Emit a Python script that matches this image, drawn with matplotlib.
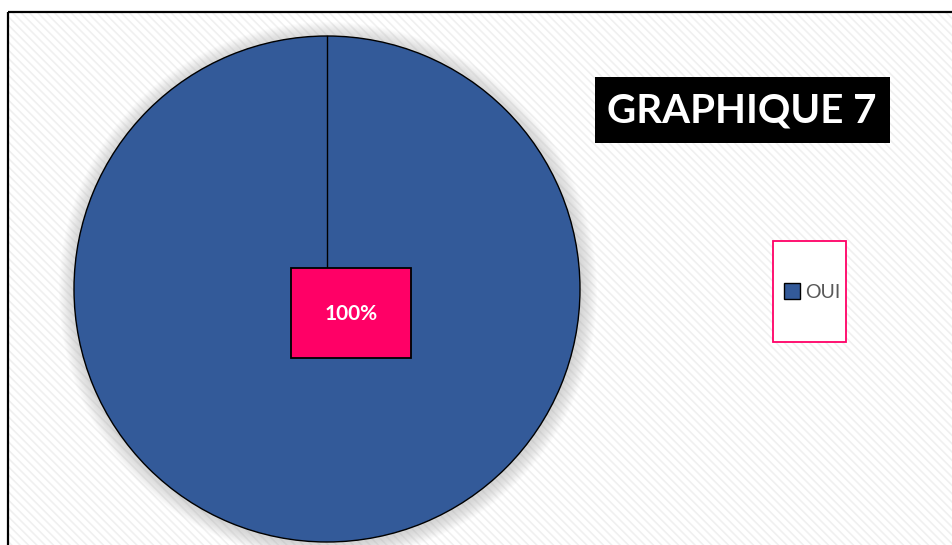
import numpy as np
import matplotlib.pyplot as plt
from matplotlib.patches import Rectangle, Circle

plt.rcParams['font.family'] = ['Lato', 'DejaVu Sans']
plt.rcParams['hatch.linewidth'] = 1.2

# Données
categories = ['OUI']
valeurs = [100]
titre = 'GRAPHIQUE 7'

bleu = '#335A99'
rose = '#FF0066'

fig = plt.figure(figsize=(9.53, 5.45), dpi=100)
ax = fig.add_axes([0, 0, 1, 1])

# fond hachuré et cadre
ax.add_patch(Rectangle((8, 12), 960, 560, facecolor='white', edgecolor='#F0F0F0',
                       hatch='\\\\\\\\', linewidth=0, zorder=0))
ax.add_patch(Rectangle((8, 12), 960, 560, fill=False, edgecolor='black',
                       linewidth=1.6, zorder=1))

cx, cy, r = 327, 289, 253

# ombre douce autour du camembert
for i in range(16):
    ax.add_patch(Circle((cx + 1, cy + 2), r + 16 - i, color='#909090',
                        alpha=0.025, linewidth=0, zorder=2))

wedges, _ = ax.pie(valeurs, colors=[bleu], startangle=270, center=(cx, cy), radius=r,
                   wedgeprops=dict(edgecolor='black', linewidth=1.0), frame=True)
for w in wedges:
    w.set_zorder(3)
# trait de départ du secteur
ang = np.deg2rad(270)
ax.plot([cx, cx + r * np.cos(ang)], [cy, cy + r * np.sin(ang)], color='black',
        linewidth=1.0, zorder=3.5)

# étiquette de pourcentage
lx, ly = 351, 313
ax.add_patch(Rectangle((lx - 60, ly - 45), 120, 90, facecolor=rose, edgecolor='black',
                       linewidth=1.3, zorder=4))
ax.text(lx, ly + 1, f'{valeurs[0]}%', color='white', fontsize=15, fontweight='bold',
        ha='center', va='center', zorder=5)

# titre
ax.add_patch(Rectangle((595, 77), 295, 66, facecolor='black', edgecolor='none', zorder=4))
ax.text(742, 111, titre, color='white', fontsize=29, fontweight='bold',
        ha='center', va='center', zorder=5)

# légende
ax.add_patch(Rectangle((773, 241), 73, 101, facecolor='white', edgecolor=rose,
                       linewidth=1.3, zorder=4))
leg = ax.legend(wedges, categories, loc='center', bbox_to_anchor=(812 / 953, 1 - 292 / 545),
                frameon=False, handlelength=0.85, handleheight=0.85, handletextpad=0.25,
                fontsize=14)
leg.set_zorder(6)
for t in leg.get_texts():
    t.set_color('#595959')

ax.set_xlim(0, 953)
ax.set_ylim(545, 0)
ax.set_aspect('auto')
ax.axis('off')

fig.savefig('out.png', dpi=100)
